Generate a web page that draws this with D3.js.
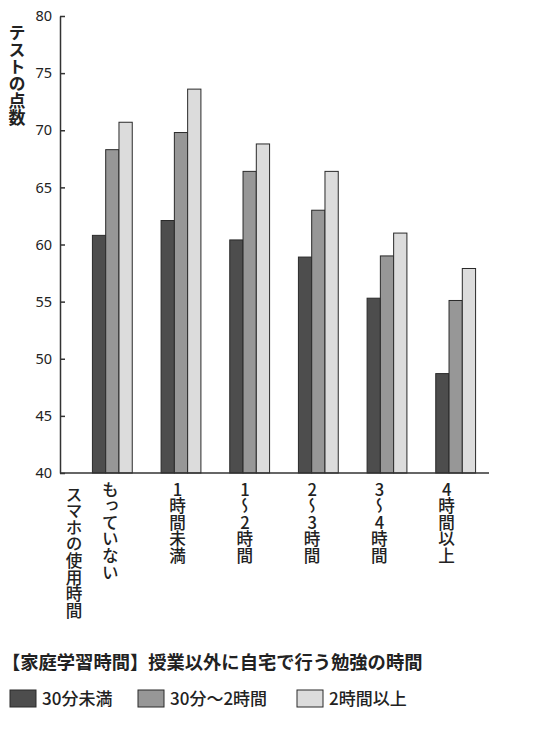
<!DOCTYPE html>
<html>
<head>
<meta charset="utf-8">
<script src="https://cdn.jsdelivr.net/npm/d3@7"></script>
<style>
body { margin: 0; background: #fff; }
text { font-family: "Noto Sans CJK JP", sans-serif; fill: #222; }
.vert { writing-mode: vertical-rl; text-orientation: upright; }
</style>
</head>
<body>
<svg></svg>
<script>
// data
var groups = ["もっていない", "1時間未満", "1〜2時間", "2〜3時間", "3〜4時間", "4時間以上"];
var seriesNames = ["30分未満", "30分〜2時間", "2時間以上"];
var under30 = [60.8, 62.1, 60.4, 58.9, 55.3, 48.7];
var from30to2h = [68.3, 69.8, 66.4, 63.0, 59.0, 55.1];
var over2h = [70.7, 73.6, 68.8, 66.4, 61.0, 57.9];
var yTicks = [40, 45, 50, 55, 60, 65, 70, 75, 80];
var colors = ["#4d4d4d", "#979797", "#dcdcdc"];

var WIDTH = 537, HEIGHT = 730;

var svg = d3.select("svg")
    .attr("width", WIDTH)
    .attr("height", HEIGHT);

var x0 = d3.scaleBand().domain(groups)
    .range([78, 490])
    .paddingInner(0.42)
    .paddingOuter(0.21);
var x1 = d3.scaleBand().domain(seriesNames)
    .range([0, x0.bandwidth()]);
var y = d3.scaleLinear().domain([40, 80]).range([473, 16]);

var table = groups.map(function (g, i) {
    return { group: g, values: [under30[i], from30to2h[i], over2h[i]] };
});

// bars
var grp = svg.selectAll("g.grp")
    .data(table)
    .enter().append("g")
    .attr("class", "grp")
    .attr("transform", function (d) { return "translate(" + x0(d.group) + ",0)"; });

grp.selectAll("rect")
    .data(function (d) { return d.values.map(function (v, j) { return { s: seriesNames[j], v: v, j: j }; }); })
    .enter().append("rect")
    .attr("x", function (d) { return x1(d.s); })
    .attr("y", function (d) { return y(d.v); })
    .attr("width", x1.bandwidth())
    .attr("height", function (d) { return y(40) - y(d.v); })
    .attr("fill", function (d) { return colors[d.j]; })
    .attr("stroke", "#2a2a2a")
    .attr("stroke-width", 1);

// y axis
var yAxis = d3.axisLeft(y).tickValues(yTicks).tickSizeInner(-5).tickSizeOuter(0).tickPadding(8);
var ya = svg.append("g")
    .attr("transform", "translate(60,0)")
    .call(yAxis);
ya.select(".domain").attr("stroke", "#333").attr("stroke-width", 1.5);
ya.selectAll(".tick line").attr("stroke", "#333").attr("stroke-width", 1.5);
ya.selectAll(".tick text")
    .style("font-family", "'Noto Sans', sans-serif")
    .style("font-size", "14.5px")
    .attr("fill", "#222");

// x axis baseline
svg.append("line")
    .attr("x1", 60).attr("x2", 489)
    .attr("y1", y(40)).attr("y2", y(40))
    .attr("stroke", "#333").attr("stroke-width", 1.5);

// y label
svg.append("text")
    .attr("class", "vert")
    .attr("x", 17).attr("y", 24)
    .style("font-size", "17px")
    .style("font-weight", "600")
    .text("テストの点数");

// x labels
svg.append("text")
    .attr("class", "vert")
    .attr("x", 74).attr("y", 486)
    .style("font-size", "16.6px")
    .style("font-weight", "500")
    .text("スマホの使用時間");

svg.selectAll("text.xlab")
    .data(groups)
    .enter().append("text")
    .attr("class", "vert xlab")
    .attr("x", function (d, i) { return x0(d) + x0.bandwidth() / 2 - 2 - i * 1.4; })
    .attr("y", 481)
    .style("font-size", "16.6px")
    .style("font-weight", "500")
    .text(function (d) { return d; });

// title
svg.append("text")
    .attr("x", 2).attr("y", 669)
    .style("font-size", "18.3px")
    .style("font-weight", "700")
    .text("【家庭学習時間】授業以外に自宅で行う勉強の時間");

// legend
var legendX = [10, 138, 297];
var lg = svg.selectAll("g.lg")
    .data(seriesNames)
    .enter().append("g")
    .attr("class", "lg")
    .attr("transform", function (d, i) { return "translate(" + legendX[i] + ",690)"; });
lg.append("rect")
    .attr("width", 26).attr("height", 17)
    .attr("fill", function (d, i) { return colors[i]; })
    .attr("stroke", "#2a2a2a").attr("stroke-width", 1);
lg.append("text")
    .attr("x", 32).attr("y", 15)
    .style("font-size", "17px")
    .style("font-weight", "500")
    .text(function (d) { return d; });
</script>
</body>
</html>
